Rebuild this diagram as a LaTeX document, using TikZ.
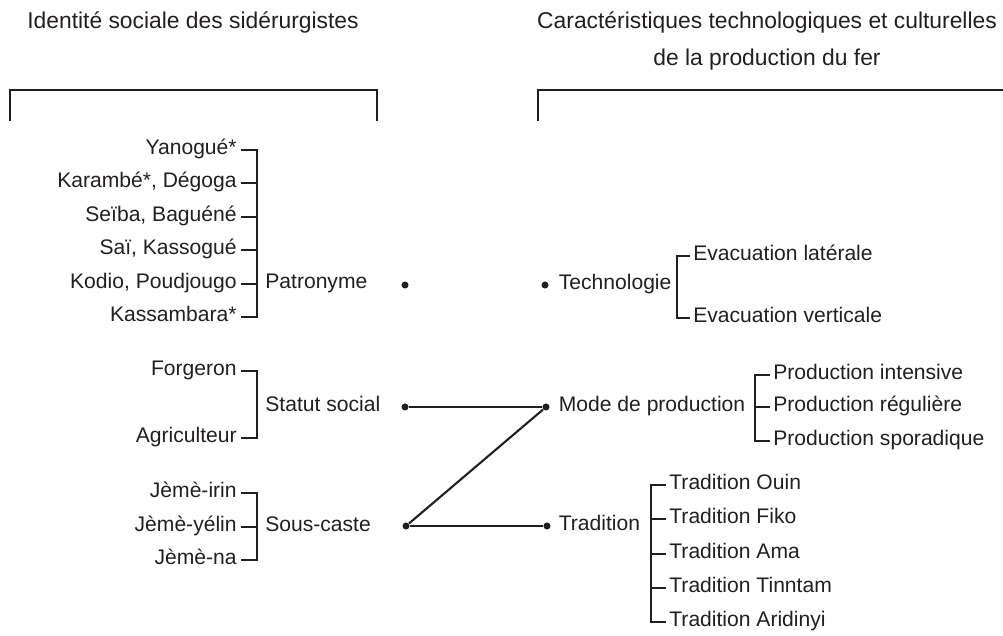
\documentclass[tikz,border=0pt]{standalone}
\usepackage{fontspec}
\setmainfont{Liberation Sans}
\usetikzlibrary{positioning,calc}
\definecolor{ink}{HTML}{231F20}

\begin{document}
\begin{tikzpicture}[x=0.02cm,y=-0.02cm,color=ink]

\tikzset{item/.style = {font=\fontsize{12}{14}\selectfont, text height=0.72em, text depth=0.2em, inner sep=2pt}}
\tikzset{title/.style = {font=\fontsize{13}{21.5}\selectfont, align=center}}
\tikzset{dot/.style = {shape=circle, fill, inner sep=0pt, minimum size=4pt}}
\tikzset{brace/.style = {line width=1.2pt}}
\tikzset{frame/.style = {line width=1pt}}
\tikzset{link/.style = {line width=1.2pt}}

\useasboundingbox (0,0) rectangle (1003,635);

% titles
\node[title] (idtitle) at (193,22) {Identité sociale des sidérurgistes};
\node[title] (cartitle) at (767,41) {Caractéristiques technologiques et culturelles\\de la production du fer};

% frames
\draw[frame] (10,121) |- (377,90) -- (377,121);
\draw[frame] (538,121) |- (1003,90);

% patronyme
\node[item, anchor=east] (yan) at (240.5,150) {Yanogué*};
\node[item, anchor=east] (kar) at (240.5,183) {Karambé*, Dégoga};
\node[item, anchor=east] (sei) at (240.5,217) {Seïba, Baguéné};
\node[item, anchor=east] (sai) at (240.5,250) {Saï, Kassogué};
\node[item, anchor=east] (kod) at (240.5,284) {Kodio, Poudjougo};
\node[item, anchor=east] (kas) at (240.5,317) {Kassambara*};
\coordinate (patbr) at (257,284);
\node[item, anchor=west] (pat) at (261.5,284) {Patronyme};
\node[dot] (patdot) at (405,285) {};

% statut social
\node[item, anchor=east] (for) at (240.5,371) {Forgeron};
\node[item, anchor=east] (agr) at (240.5,438) {Agriculteur};
\coordinate (statbr) at (257,407);
\node[item, anchor=west] (stat) at (261.5,407) {Statut social};
\node[dot] (statdot) at (405,407) {};

% sous-caste
\node[item, anchor=east] (irin) at (240.5,493) {Jèmè-irin};
\node[item, anchor=east] (yel) at (240.5,527) {Jèmè-yélin};
\node[item, anchor=east] (na) at (240.5,560) {Jèmè-na};
\coordinate (sousbr) at (257,527);
\node[item, anchor=west] (sous) at (261.5,527) {Sous-caste};
\node[dot] (sousdot) at (406,526) {};

% technologie
\node[dot] (techdot) at (545,285) {};
\node[item, anchor=west] (tech) at (555,285) {Technologie};
\coordinate (techbr) at (677,285);
\node[item, anchor=west] (evl) at (689.5,256) {Evacuation latérale};
\node[item, anchor=west] (evv) at (689.5,318) {Evacuation verticale};

% mode de production
\node[dot] (modedot) at (546,407) {};
\node[item, anchor=west] (mode) at (555,407) {Mode de production};
\coordinate (modebr) at (755,407);
\node[item, anchor=west] (pint) at (769.5,375) {Production intensive};
\node[item, anchor=west] (preg) at (769.5,407) {Production régulière};
\node[item, anchor=west] (pspo) at (769.5,441) {Production sporadique};

% tradition
\node[dot] (traddot) at (547,526) {};
\node[item, anchor=west] (trad) at (555,526) {Tradition};
\coordinate (tradbr) at (651,526);
\node[item, anchor=west] (ouin) at (665.5,485) {Tradition Ouin};
\node[item, anchor=west] (fiko) at (665.5,519) {Tradition Fiko};
\node[item, anchor=west] (ama) at (665.5,554) {Tradition Ama};
\node[item, anchor=west] (tinn) at (665.5,588) {Tradition Tinntam};
\node[item, anchor=west] (arid) at (665.5,622) {Tradition Aridinyi};

% brackets
\draw[brace] (yan.east) -| (patbr) |- (kas.east);
\foreach \n in {kar,sei,sai,kod} \draw[brace] (\n.east) -- (\n.east -| patbr);
\draw[brace] (for.east) -| (statbr) |- (agr.east);
\draw[brace] (irin.east) -| (sousbr) |- (na.east);
\draw[brace] (yel.east) -- (yel.east -| sousbr);
\draw[brace] (evl.west) -| (techbr) |- (evv.west);
\draw[brace] (pint.west) -| (modebr) |- (pspo.west);
\draw[brace] (preg.west) -- (preg.west -| modebr);
\draw[brace] (ouin.west) -| (tradbr) |- (arid.west);
\foreach \n in {fiko,ama,tinn} \draw[brace] (\n.west) -- (\n.west -| tradbr);

%edges
\draw[link] (statdot) -- (modedot);
\draw[link] (sousdot) -- (modedot);
\draw[link] (sousdot) -- (traddot);

\end{tikzpicture}
\end{document}
